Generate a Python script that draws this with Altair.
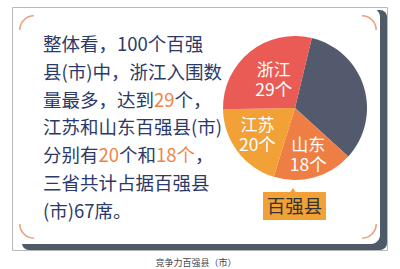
import math
import altair as alt
import pandas as pd

# ---------------- data ----------------
regions = ["其他", "山东", "江苏", "浙江"]          # clockwise order from top
counts = [33, 18, 20, 29]
slice_colors = ["#545a6d", "#ef7e45", "#f1a135", "#ea5b56"]
show_label = [False, True, True, True]

text_lines = [
    "整体看，100个百强",
    "县(市)中，浙江入围数",
    "量最多，达到29个，",
    "江苏和山东百强县(市)",
    "分别有20个和18个，",
    "三省共计占据百强县",
    "(市)67席。",
]
highlights = {2: ["29"], 4: ["20", "18个"]}
box_label = "百强县"
caption = "竞争力百强县（市）"

# ---------------- layout ----------------
W, H = 400, 269
FONT = "Noto Sans CJK SC"
FS = 18.5
DARK = "#2c3a6a"
ORANGE = "#ee8646"
label_radius = {"浙江": 34, "江苏": 47, "山东": 50, "其他": 0}
cx, cy, R = 295, 108, 72
start = math.radians(13.5)


def em_width(s):
    w = 0.0
    for ch in s:
        if ch.isdigit():
            w += 0.555
        elif ch in "()":
            w += 0.33
        elif ord(ch) < 128:
            w += 0.5
        else:
            w += 1.0
    return w


# split each line into coloured segments, placed one after another
rows = []
for i, line in enumerate(text_lines):
    y = 45 + i * 27.8
    spans = []
    pos = 0
    for h in highlights.get(i, []):
        s = line.index(h, pos)
        spans.append((s, s + len(h)))
        pos = s + len(h)
    cuts = [0]
    for s, e in spans:
        cuts += [s, e]
    cuts.append(len(line))
    hl_starts = {s for s, _ in spans}
    for a, b in zip(cuts[:-1], cuts[1:]):
        if a == b:
            continue
        seg = line[a:b]
        rows.append({
            "t": seg,
            "c": ORANGE if a in hl_starts else DARK,
            "y": y,
            "x": 43 + em_width(line[:a]) * FS,
        })
text_df = pd.DataFrame(rows)

pie_df = pd.DataFrame({
    "region": regions,
    "count": counts,
    "ord": list(range(len(regions))),
    "show": show_label,
    "lr": [label_radius[r] for r in regions],
})
pie_df["num"] = pie_df["count"].astype(str) + "个"

one = pd.DataFrame({"a": [0]})

bg_border = alt.Chart(one).mark_rect(fill="white", stroke="#b8b8b8", strokeWidth=1).encode(
    x=alt.value(12.5), x2=alt.value(387.5), y=alt.value(7.5), y2=alt.value(250.5))
shadow = alt.Chart(one).mark_rect(fill="#4f5a69", cornerRadius=7).encode(
    x=alt.value(22), x2=alt.value(387), y=alt.value(10), y2=alt.value(250))
card = alt.Chart(one).mark_rect(fill="white", cornerRadius=9).encode(
    x=alt.value(13), x2=alt.value(380), y=alt.value(8), y2=alt.value(244))

corner_color = "#eba07c"
corners = []
for (px, py, t0) in [(34, 30, 1.5), (362, 30, 0.0), (362, 224, 0.5), (34, 224, 1.0)]:
    corners.append(
        alt.Chart(one).mark_arc(radius=15, radius2=13.4, theta=t0 * math.pi,
                                theta2=(t0 + 0.5) * math.pi, color=corner_color)
        .encode(x=alt.value(px), y=alt.value(py))
    )

body = alt.Chart(text_df).mark_text(
    font=FONT, fontSize=FS, align="left", baseline="middle"
).encode(
    x=alt.X("x:Q", scale=None),
    y=alt.Y("y:Q", scale=None),
    text="t:N",
    color=alt.Color("c:N", scale=None),
)

theta = alt.Theta("count:Q", stack=True,
                  scale=alt.Scale(domain=[0, sum(counts)], range=[start, start + 2 * math.pi]))
pie = alt.Chart(pie_df).mark_arc(outerRadius=R, stroke=None).encode(
    theta=theta,
    order=alt.Order("ord:Q"),
    x=alt.value(cx), y=alt.value(cy),
    color=alt.Color("region:N", scale=alt.Scale(domain=regions, range=slice_colors), legend=None),
)

total = sum(counts)
lab_base = alt.Chart(pie_df).transform_window(
    cum="sum(count)", sort=[alt.SortField("ord")], frame=[None, 0]
).transform_calculate(
    ang=f"{start} + (datum.cum - datum.count / 2) / {total} * 2 * PI"
).transform_calculate(
    lx=f"{cx} + datum.lr * sin(datum.ang)",
    ly=f"{cy} - datum.lr * cos(datum.ang)",
).transform_filter("datum.show")

lab1 = lab_base.mark_text(font=FONT, fontSize=17, color="white", dy=-10).encode(
    x=alt.X("lx:Q", scale=None), y=alt.Y("ly:Q", scale=None), text="region:N")
lab2 = lab_base.mark_text(font=FONT, fontSize=17.5, color="white", dy=10).encode(
    x=alt.X("lx:Q", scale=None), y=alt.Y("ly:Q", scale=None), text="num:N")

box = alt.Chart(one).mark_rect(fill="#f1a135").encode(
    x=alt.value(263), x2=alt.value(326), y=alt.value(192), y2=alt.value(220))
pointer = alt.Chart(one).mark_point(shape="triangle-up", filled=True, fill="#f1a135",
                                    opacity=1, size=30, strokeWidth=0).encode(
    x=alt.value(293), y=alt.value(190))
box_text = alt.Chart(pd.DataFrame({"t": [box_label]})).mark_text(
    font=FONT, fontSize=18.5, color="#333333", align="center",
    baseline="middle").encode(
    x=alt.value(294.5), y=alt.value(206.5), text="t:N")

cap = alt.Chart(pd.DataFrame({"t": [caption]})).mark_text(
    font=FONT, fontSize=9, color="#444444", align="center", baseline="middle").encode(
    x=alt.value(196), y=alt.value(263), text="t:N")

chart = alt.layer(
    bg_border, shadow, card, *corners, body, pie, lab1, lab2, box, pointer, box_text, cap
).properties(
    width=W, height=H, autosize=alt.AutoSizeParams(type="none"), padding=0,
    background="white",
).configure_view(stroke=None)

chart.save("out.html", embed_options={"renderer": "svg", "actions": False})
